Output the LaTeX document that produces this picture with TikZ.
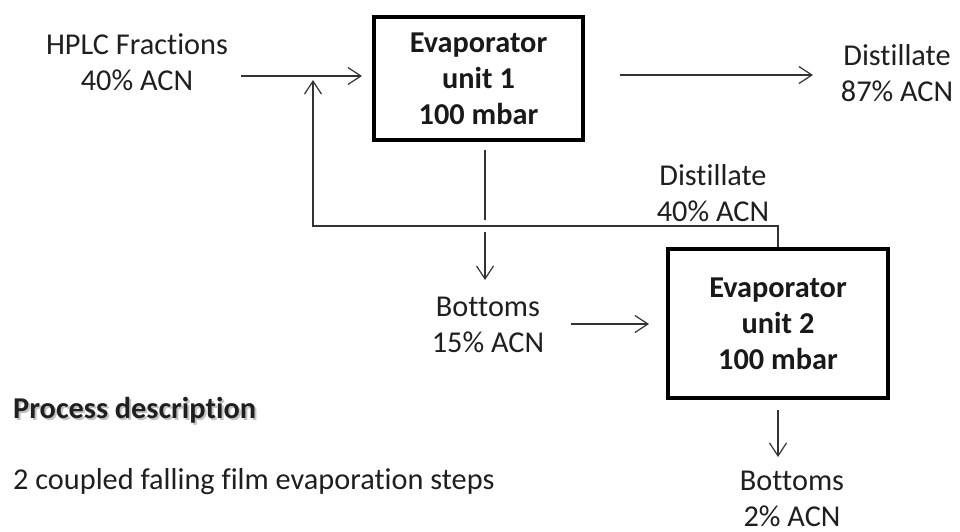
\documentclass[tikz,border=0pt]{standalone}
\usepackage{fontspec}
\setmainfont[Ligatures={NoCommon,NoContextual,NoRare}]{Carlito}
\usetikzlibrary{arrows.meta,calc}
\newcommand{\nlg}{\kern0pt }
\begin{document}
\begin{tikzpicture}[x=1pt,y=-1pt,
  lbl/.style={align=center,font=\fontsize{30.3}{36}\selectfont,inner sep=0pt,text=black!88},
  unitbox/.style={draw,line width=3.4pt,align=center,inner sep=0pt,
    font=\fontsize{30.3}{36}\selectfont\bfseries,text=black!90},
  flow/.style={line width=1.2pt,draw=black!80},
  arr/.style={flow,-{Straight Barb[length=13pt,width=17pt]}}]
\useasboundingbox (0,0) rectangle (960,531);
% units
\node[unitbox,minimum width=209pt,minimum height=123pt] (b1) at (478.5,78.5) {Evaporator\\unit 1\\100 mbar};
\node[unitbox,minimum width=220pt,minimum height=149pt] (b2) at (778,323.5) {Evaporator\\unit 2\\100 mbar};
% labels
\node[lbl] (hplc) at (137,62) {HPLC Fractions\\40\% ACN};
\node[lbl] (dist1) at (897,73.5) {Dist\nlg illate\\87\% ACN};
\node[lbl] (dist2) at (713,193) {Dist\nlg illate\\40\% ACN};
\node[lbl] (bot1) at (488,325) {Bottoms\\15\% ACN};
\node[lbl] (bot2) at (792,499) {Bottoms\\2\% ACN};
\node[lbl,anchor=west,font=\fontsize{30.3}{36}\selectfont\bfseries,text=black!40,opacity=0.6] (pdshadow) at (15,412) {Process descript\nlg ion};
\node[lbl,anchor=west,font=\fontsize{30.3}{36}\selectfont\bfseries] (pd) at (13,410) {Process descript\nlg ion};
\node[lbl,anchor=west] (steps) at (13,482) {2 coupled falling film evaporat\nlg ion steps};
% coordinates
\coordinate (in1) at (241,76);
\coordinate (in1e) at (362,76);
\coordinate (out1s) at (620,75);
\coordinate (out1e) at (813,75);
\coordinate (rc) at (313,226);
\coordinate (rctip) at (313,80);
\coordinate (gapA) at (485,220);
\coordinate (gapB) at (485,232);
\coordinate (bot1arr) at (485,280);
\coordinate (b2in) at (571,324);
\coordinate (b2ine) at (649,324);
\coordinate (b2outs) at (778,410);
\coordinate (b2oute) at (778,457);
% connectors
\draw[arr] (in1) -- (in1e);
\draw[arr] (out1s) -- (out1e);
\draw[arr] (b2.north) |- (rc) -- (rctip);
\draw[flow] (b1.south -| gapA) ++(0,8) -- (gapA);
\draw[arr] (gapB) -- (bot1arr);
\draw[arr] (b2in) -- (b2ine);
\draw[arr] (b2outs) -- (b2oute);
\end{tikzpicture}
\end{document}
